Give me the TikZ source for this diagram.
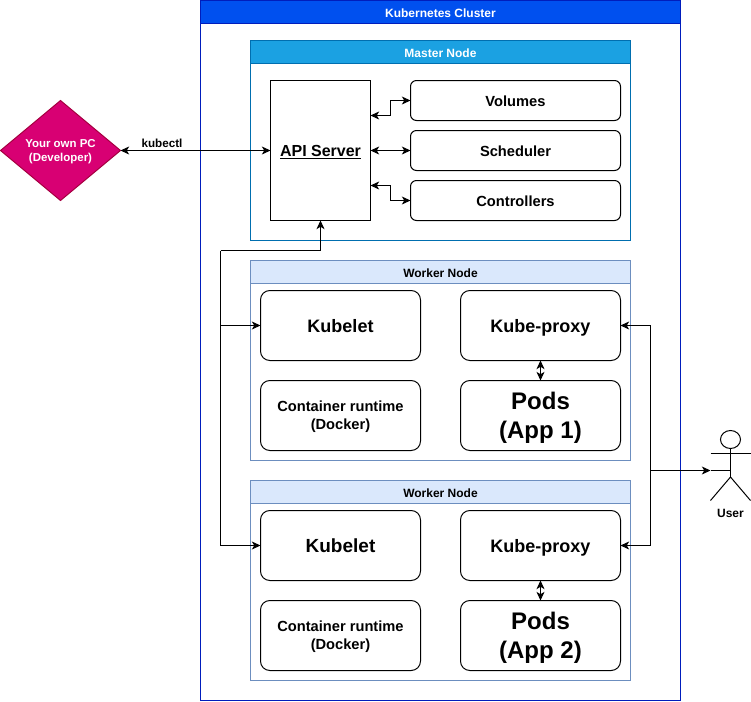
\documentclass[tikz,border=0pt]{standalone}
\usepackage{fontspec}
\setmainfont{Liberation Sans}
\usetikzlibrary{arrows.meta,shapes.geometric}
\definecolor{clusterline}{HTML}{001DBC}
\definecolor{clusterhead}{HTML}{0050EF}
\definecolor{masterline}{HTML}{006EAF}
\definecolor{masterhead}{HTML}{1BA1E2}
\definecolor{workerline}{HTML}{6C8EBF}
\definecolor{workerhead}{HTML}{DAE8FC}
\definecolor{pcfill}{HTML}{D80073}
\definecolor{pcline}{HTML}{A50040}
\tikzset{
	>={Stealth[length=6.5pt,width=6pt,inset=1.8pt]},
	every node/.style={outer sep=0pt,inner sep=0pt,align=center,font=\bfseries},
	every path/.style={line width=0.75pt},
	frame/.style={draw,rectangle,fill=white},
	headbox/.style={draw,rectangle,text height=8pt,text depth=0pt,font=\bfseries\fontsize{9}{11}\selectfont},
	smallbox/.style={draw,rounded corners=4.5pt,minimum width=157.5pt,minimum height=30pt,text height=9.5pt,text depth=0pt,font=\bfseries\fontsize{11}{13.5}\selectfont},
	bigbox/.style={draw,rounded corners=7pt,minimum width=120pt,minimum height=52.5pt,text depth=0pt},
	midtext/.style={font=\bfseries\fontsize{13.5}{16}\selectfont},
	runtext/.style={font=\bfseries\fontsize{11}{13.5}\selectfont},
	podtext/.style={font=\bfseries\fontsize{18}{21.6}\selectfont},
	labeltext/.style={font=\bfseries\fontsize{9}{11}\selectfont}
}
\begin{document}
\begin{tikzpicture}[x=0.75pt,y=-0.75pt]
		\useasboundingbox (0,0) rectangle (751,701);
		% cluster and master
		\node[frame,draw=clusterline,minimum width=360pt,minimum height=525pt] (cluster) at (440.5,350.5) {};
		\node[headbox,draw=clusterline,fill=clusterhead,text=white,minimum width=360pt,minimum height=17.25pt] (clusterhead) at (440.5,12) {Kubernetes Cluster};
		\node[frame,draw=masterline,minimum width=285pt,minimum height=150pt] (master) at (440.5,140.5) {};
		\node[headbox,draw=masterline,fill=masterhead,text=white,minimum width=285pt,minimum height=17.25pt] (masterhead) at (440.5,52) {Master Node};
		\node[draw,rectangle,fill=white,minimum width=75pt,minimum height=105pt,text depth=0pt,font=\bfseries\fontsize{12}{14}\selectfont] (api) at (320.5,150.5) {\underline{API Server}};
		\node[smallbox] (volumes) at (515.5,100.5) {Volumes};
		\node[smallbox] (scheduler) at (515.5,150.5) {Scheduler};
		\node[smallbox] (controllers) at (515.5,200.5) {Controllers};
		% the two workers
		\foreach \n/\dy/\ksize in {1/0/13.5,2/220/14.25}{
			\node[frame,draw=workerline,minimum width=285pt,minimum height=150pt] (worker\n) at (440.5,360.5+\dy) {};
			\node[headbox,draw=workerline,fill=workerhead,minimum width=285pt,minimum height=17.25pt] (workerhead\n) at (440.5,272+\dy) {Worker Node};
			\node[bigbox,font=\bfseries\fontsize{\ksize}{16}\selectfont] (kubelet\n) at (340.5,325.5+\dy) {Kubelet};
			\node[bigbox,runtext] (runtime\n) at (340.5,415.5+\dy) {Container runtime\\(Docker)};
			\node[bigbox,midtext] (proxy\n) at (540.5,325.5+\dy) {Kube-proxy};
			\node[bigbox,podtext] (pods\n) at (540.5,415.5+\dy) {Pods\\(App \n)};
			\draw[<->] (proxy\n) -- (pods\n);
		}
		% developer
		\node[diamond,draw=pcline,fill=pcfill,text=white,minimum width=90pt,minimum height=75pt,aspect=1.2,text depth=0pt,font=\bfseries\fontsize{8.6}{11}\selectfont] (pc) at (60.5,150.5) {Your own PC\\(Developer)};
		\node[font=\bfseries\fontsize{8.75}{10}\selectfont] (kubectl) at (162,143) {kubectl};
		\draw[<->] (pc.east) -- (api.west);
		% inside the master
		\coordinate (apitop) at (370.5,115.5);
		\coordinate (apibot) at (370.5,185.5);
		\draw[<->] (apitop) -- ++(20,0) |- (volumes.west);
		\draw[<->] (api.east |- scheduler) -- (scheduler.west);
		\draw[<->] (apibot) -- ++(20,0) |- (controllers.west);
		% kubelets up to the api
		\coordinate (bus) at (220.5,250.5);
		\draw[<-] (api.south) |- (bus);
		\draw[->] (bus) |- (kubelet1.west);
		\draw[->] (bus) |- (kubelet2.west);
		% user
		\coordinate (hub) at (650.5,470.5);
		\coordinate (useredge) at (710.5,470.5);
		\draw[->] (proxy1.east -| hub) -- (proxy1.east);
		\draw[->] (proxy2.east -| hub) -- (proxy2.east);
		\draw (proxy1.east -| hub) -- (proxy2.east -| hub);
		\draw[->] (hub) -- (useredge);
		\draw (useredge) -- (730.5,470.5);
		\draw (730.5,439.5) ellipse[x radius=7.5pt,y radius=6.75pt];
		\draw (730.5,448.5) -- (730.5,477) (710.5,453.5) -- (750.5,453.5);
		\draw (710.5,500.5) -- (730.5,477) -- (750.5,500.5);
		\node[labeltext] (user) at (730.5,513.5) {User};
	\end{tikzpicture}
\end{document}
